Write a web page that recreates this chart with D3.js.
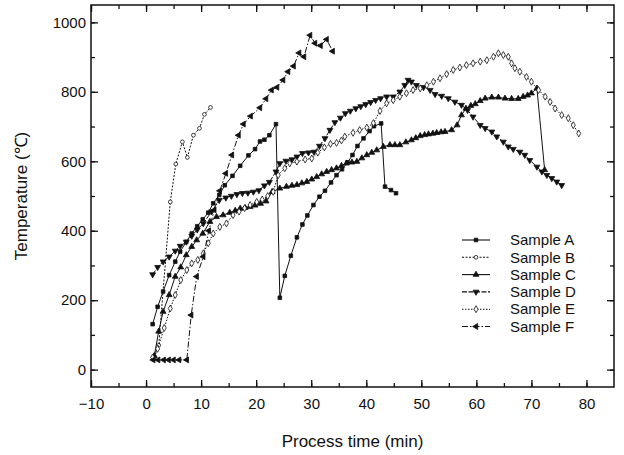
<!DOCTYPE html>
<html>
<head>
<meta charset="utf-8">
<script src="https://cdnjs.cloudflare.com/ajax/libs/d3/7.8.5/d3.min.js"></script>
<style>
  body { margin: 0; background: #fff; }
  svg text { font-family: "Liberation Sans", Arial, sans-serif; fill: #111; }
</style>
</head>
<body>
<div id="chart"></div>
<script>
// values: [time (min), temperature (C)]
var sampleA = [[1.2,131],[2.1,181],[3.1,225],[4.2,272],[5.3,311],[6.2,340],[7.3,368],[8.3,392],[9.3,413],[10.3,433],[11.3,452],[12.2,479],[13.3,503],[14.3,531],[15.7,558],[17.1,587],[18.6,617],[19.8,635],[20.7,657],[21.5,662],[22.4,675],[23.6,707],[24.3,207],[25.2,270],[26.3,328],[27.4,381],[28.4,418],[29.3,444],[30.4,474],[31.5,498],[32.5,515],[33.6,539],[34.6,560],[35.6,577],[36.6,597],[37.5,618],[38.4,644],[39.5,666],[40.6,687],[41.4,701],[42.7,709],[43.4,527],[44.5,517],[45.4,508]];
var sampleB = [[1.5,35],[2.3,70],[4.4,483],[5.4,592],[6.6,656],[7.5,611],[8.6,675],[9.7,695],[10.6,735],[11.7,755]];
var sampleC = [[1.5,40],[2.3,110],[3.1,167],[4.2,215],[5.3,268],[6.3,295],[7.3,330],[8.3,354],[9.2,373],[10.3,392],[11.6,426],[12.8,440],[14.0,445],[15.2,452],[16.2,458],[17.1,464],[18.0,466],[18.9,469],[19.8,473],[20.8,478],[21.8,485],[22.9,512],[24.3,522],[25.5,527],[26.5,530],[27.4,532],[28.3,537],[29.2,541],[30.1,548],[31.0,555],[31.9,563],[32.8,570],[33.7,575],[34.6,580],[35.5,587],[36.4,594],[37.4,597],[38.3,599],[39.2,609],[40.1,618],[41.0,625],[41.9,632],[43.1,642],[44.3,647],[45.2,647],[46.1,647],[47.2,655],[48.2,661],[49.0,667],[49.8,673],[50.6,676],[51.3,678],[52.1,680],[52.8,682],[53.6,684],[54.3,685],[55.5,690],[56.5,704],[57.3,733],[58.1,752],[59.0,760],[59.8,765],[60.7,774],[61.6,781],[62.8,784],[64.0,784],[65.2,781],[66.4,780],[67.6,780],[68.5,786],[69.3,790],[70.0,796],[71.0,810],[72.4,575]];
var sampleD = [[1.2,274],[2.1,295],[3.1,311],[4.2,325],[5.3,342],[6.2,356],[7.3,368],[8.3,385],[9.3,403],[10.4,421],[11.9,455],[13.3,488],[14.5,495],[15.5,500],[16.5,505],[17.5,508],[18.5,509],[19.5,512],[20.5,516],[21.5,530],[22.4,540],[23.6,570],[24.3,594],[25.4,601],[26.5,605],[27.4,613],[28.4,623],[29.5,625],[30.5,627],[31.5,644],[32.5,666],[33.4,690],[34.3,712],[35.3,725],[36.2,738],[37.1,745],[38.1,752],[39.0,758],[39.9,764],[40.8,770],[41.7,776],[42.6,781],[43.7,786],[44.9,786],[46.1,800],[47.0,819],[47.6,834],[48.2,829],[49.1,819],[50.4,813],[51.6,805],[52.5,793],[53.7,788],[54.9,781],[56.1,771],[57.3,762],[58.4,747],[59.4,728],[60.7,704],[61.6,695],[62.8,685],[63.7,671],[64.9,656],[65.8,642],[66.7,635],[67.9,627],[68.8,618],[69.7,603],[71.0,584],[71.9,570],[72.8,560],[73.7,551],[74.6,541],[75.5,531]];
var sampleE = [[1.2,35],[2.1,60],[3.3,120],[4.4,176],[5.3,215],[6.3,258],[7.4,287],[8.3,306],[9.4,316],[10.4,335],[11.3,364],[12.2,392],[13.4,411],[14.6,421],[15.8,445],[16.9,455],[17.9,465],[18.9,474],[20.1,483],[21.1,490],[22.1,500],[23.1,512],[24.0,560],[25.2,580],[26.1,594],[27.4,599],[28.9,605],[30.1,608],[31.2,625],[32.4,640],[33.5,650],[34.6,653],[35.5,660],[36.1,671],[37.6,682],[38.8,690],[40.1,697],[41.3,710],[42.5,745],[43.7,767],[44.9,776],[46.1,786],[47.3,796],[48.5,805],[49.8,810],[51.0,819],[52.2,829],[53.4,839],[54.6,851],[55.8,863],[57.0,870],[58.2,877],[59.4,882],[60.7,887],[61.9,891],[63.1,901],[64.0,911],[64.9,906],[65.8,901],[66.4,882],[67.0,868],[67.9,858],[69.1,843],[70.0,829],[71.3,805],[72.5,786],[73.4,771],[74.3,752],[75.5,733],[76.7,724],[77.6,704],[78.6,680]];
var sampleF = [[1.3,28],[2.2,28],[3.2,28],[4.1,28],[5.0,28],[6.0,28],[7.4,28],[8.2,157],[9.2,268],[10.4,325],[11.4,400],[12.4,460],[13.4,515],[14.5,565],[15.6,618],[16.8,675],[17.7,707],[19.0,730],[20.7,754],[21.8,780],[22.8,805],[23.8,813],[24.9,834],[25.8,858],[26.8,874],[27.8,912],[28.7,901],[29.8,963],[30.7,940],[31.7,933],[32.8,951],[33.9,917]];

var seriesNames = ["Sample A", "Sample B", "Sample C", "Sample D", "Sample E", "Sample F"];
var xTicks = [-10, 0, 10, 20, 30, 40, 50, 60, 70, 80];
var yTicks = [0, 200, 400, 600, 800, 1000];

var width = 624, height = 455;
var margin = { top: 5, right: 10, bottom: 68, left: 91 };

var svg = d3.select("#chart").append("svg")
    .attr("width", width)
    .attr("height", height);

var x = d3.scaleLinear().domain([-10, 85]).range([margin.left, width - margin.right]);
var y = d3.scaleLinear().domain([-50, 1050]).range([height - margin.bottom, margin.top]);

// styles per series: symbol, filled, rotation, dash
var styles = [
    { sym: d3.symbolSquare, size: 13, fill: true, rot: 0, dash: null },
    { sym: d3.symbolCircle, size: 11, fill: false, rot: 0, dash: "2,1.5" },
    { sym: d3.symbolTriangle, size: 15, fill: true, rot: 0, dash: null },
    { sym: d3.symbolTriangle, size: 15, fill: true, rot: 180, dash: "5,1.5" },
    { sym: d3.symbolDiamond, size: 14, fill: false, rot: 0, dash: "1.5,1.5" },
    { sym: d3.symbolTriangle, size: 15, fill: true, rot: -90, dash: "6,2,1.5,2" }
];
var allData = [sampleA, sampleB, sampleC, sampleD, sampleE, sampleF];

var line = d3.line().x(function (d) { return x(d[0]); }).y(function (d) { return y(d[1]); });

allData.forEach(function (data, i) {
    var st = styles[i];
    svg.append("path")
        .datum(data)
        .attr("d", line)
        .style("fill", "none")
        .style("stroke", "#111")
        .style("stroke-width", 1)
        .style("stroke-dasharray", st.dash);

    svg.selectAll(".m" + i)
        .data(data)
        .enter().append("path")
        .attr("class", "m" + i)
        .attr("d", d3.symbol().type(st.sym).size(st.size))
        .attr("transform", function (d) { return "translate(" + x(d[0]) + "," + y(d[1]) + ") rotate(" + st.rot + ")"; })
        .style("fill", st.fill ? "#111" : "#fff")
        .style("stroke", "#111")
        .style("stroke-width", 0.8);
});

// axes with inward ticks
var bottom = height - margin.bottom;
var xMinor = d3.range(-10, 85, 5);
var yMinor = d3.range(0, 1050, 100);

svg.append("g")
    .attr("transform", "translate(0," + bottom + ")")
    .call(d3.axisBottom(x).tickValues(xMinor).tickSize(-4).tickSizeOuter(0).tickFormat(""));
svg.append("g")
    .attr("transform", "translate(0," + bottom + ")")
    .call(d3.axisBottom(x).tickValues(xTicks).tickSize(-7).tickSizeOuter(0).tickPadding(11).tickFormat(d3.format("d")));
svg.append("g")
    .attr("transform", "translate(0," + margin.top + ")")
    .call(d3.axisTop(x).tickValues(xMinor).tickSize(-4).tickSizeOuter(0).tickFormat(""));
svg.append("g")
    .attr("transform", "translate(0," + margin.top + ")")
    .call(d3.axisTop(x).tickValues(xTicks).tickSize(-7).tickSizeOuter(0).tickFormat(""));

svg.append("g")
    .attr("transform", "translate(" + margin.left + ",0)")
    .call(d3.axisLeft(y).tickValues(yMinor).tickSize(-4).tickSizeOuter(0).tickFormat(""));
svg.append("g")
    .attr("transform", "translate(" + margin.left + ",0)")
    .call(d3.axisLeft(y).tickValues(yTicks).tickSize(-7).tickSizeOuter(0).tickPadding(5).tickFormat(d3.format("d")));
svg.append("g")
    .attr("transform", "translate(" + (width - margin.right) + ",0)")
    .call(d3.axisRight(y).tickValues(yMinor).tickSize(-4).tickSizeOuter(0).tickFormat(""));
svg.append("g")
    .attr("transform", "translate(" + (width - margin.right) + ",0)")
    .call(d3.axisRight(y).tickValues(yTicks).tickSize(-7).tickSizeOuter(0).tickFormat(""));

svg.selectAll(".tick line").style("stroke", "#111").style("stroke-width", 1.3);
svg.selectAll(".domain").remove();
svg.selectAll(".tick text").style("font-size", "15px").style("fill", "#111");

svg.append("rect")
    .attr("x", margin.left).attr("y", margin.top)
    .attr("width", width - margin.right - margin.left)
    .attr("height", bottom - margin.top)
    .style("fill", "none").style("stroke", "#111").style("stroke-width", 1.5);

// axis titles
svg.append("text")
    .attr("x", (margin.left + width - margin.right) / 2)
    .attr("y", 447)
    .attr("text-anchor", "middle")
    .style("font-size", "17px")
    .text("Process time (min)");

svg.append("text")
    .attr("transform", "translate(27," + ((margin.top + bottom) / 2) + ") rotate(-90)")
    .attr("text-anchor", "middle")
    .style("font-size", "17px")
    .text("Temperature (\u2103)");

// legend
var legend = svg.append("g");
seriesNames.forEach(function (name, i) {
    var st = styles[i];
    var ly = 240 + i * 17.3;
    legend.append("line")
        .attr("x1", 462).attr("x2", 490).attr("y1", ly).attr("y2", ly)
        .style("stroke", "#111").style("stroke-width", 1.1)
        .style("stroke-dasharray", st.dash);
    legend.append("path")
        .attr("d", d3.symbol().type(st.sym).size(st.size))
        .attr("transform", "translate(476," + ly + ") rotate(" + st.rot + ")")
        .style("fill", st.fill ? "#111" : "#fff")
        .style("stroke", "#111").style("stroke-width", 0.8);
    legend.append("text")
        .attr("x", 510).attr("y", ly)
        .attr("dy", "0.35em")
        .style("font-size", "15px")
        .text(name);
});
</script>
</body>
</html>
